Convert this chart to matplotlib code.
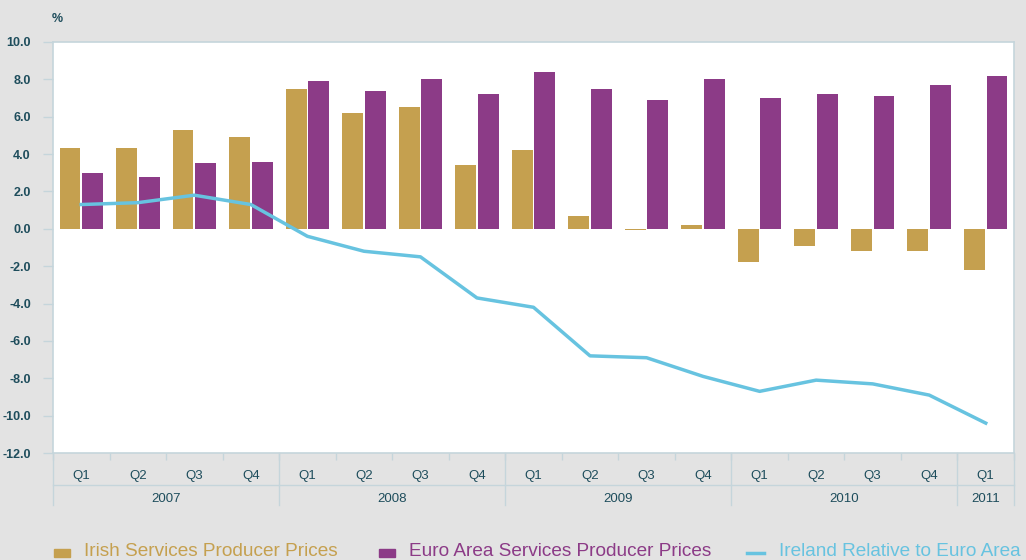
import matplotlib
matplotlib.use("Agg")
import matplotlib.pyplot as plt
from matplotlib.patches import Rectangle
import numpy as np

quarters = ["Q1", "Q2", "Q3", "Q4"] * 4 + ["Q1"]
years = ["2007", "2008", "2009", "2010", "2011"]
year_sizes = [4, 4, 4, 4, 1]

irish = [4.3, 4.3, 5.3, 4.9, 7.5, 6.2, 6.5, 3.4, 4.2, 0.7, -0.05, 0.2,
         -1.8, -0.9, -1.2, -1.2, -2.2]
euro = [3.0, 2.8, 3.5, 3.6, 7.9, 7.4, 8.0, 7.2, 8.4, 7.5, 6.9, 8.0,
        7.0, 7.2, 7.1, 7.7, 8.2]
relative = [1.3, 1.4, 1.8, 1.3, -0.4, -1.2, -1.5, -3.7, -4.2, -6.8, -6.9, -7.9,
            -8.7, -8.1, -8.3, -8.9, -10.4]

gold = "#c5a04f"
purple = "#8c3b87"
blue = "#67c3e0"
txt = "#1e4d5c"
axcol = "#c5d5db"
bg = "#e3e3e3"

plt.rcParams['font.family'] = ['Liberation Sans', 'DejaVu Sans']

fig = plt.figure(figsize=(10.26, 5.6), dpi=100, facecolor=bg)
ax = fig.add_axes([53 / 1026, 1 - 453 / 560, 961 / 1026, 411 / 560])
ax.set_facecolor("white")

x = np.arange(len(irish))
w = 0.37
ax.bar(x - 0.2, irish, w, color=gold, zorder=2)
ax.bar(x + 0.2, euro, w, color=purple, zorder=2)
ax.plot(x, relative, color=blue, lw=2.5, zorder=3)

ax.set_xlim(-0.5, len(irish) - 0.5)
ax.set_ylim(-12, 10)
yt = np.arange(-12, 11, 2)
ax.set_yticks(yt)
ax.set_yticklabels([f"{v:.1f}" for v in yt], fontsize=9, color=txt, fontweight="bold")
ax.tick_params(axis="y", length=7, width=1, color=axcol, pad=9)

ax.set_xticks(x)
ax.set_xticklabels(quarters, fontsize=9.5, color=txt)
ax.tick_params(axis="x", length=0, pad=12)
ax.set_xticks(np.arange(-0.5, len(irish), 1), minor=True)
ax.tick_params(axis="x", which="minor", length=5, width=1, color=axcol, direction="out")

for s in ax.spines.values():
    s.set_color(axcol)
    s.set_linewidth(1.2)

# year grouping lines and labels below the axis
tr = ax.get_xaxis_transform()
ax.plot([-0.5, len(irish) - 0.5], [-32 / 411, -32 / 411], transform=tr,
        color=axcol, lw=1, clip_on=False)
start = -0.5
bounds = [start]
for yr, n in zip(years, year_sizes):
    ax.text(start + n / 2, -46 / 411, yr, transform=tr, ha="center", va="center",
            fontsize=9.5, color=txt)
    start += n
    bounds.append(start)
for b in bounds:
    ax.plot([b, b], [0, -52 / 411], transform=tr, color=axcol, lw=1, clip_on=False)

fig.text(57 / 1026, 1 - 19 / 560, "%", fontsize=9, color=txt, fontweight="bold",
         ha="center", va="center")

# legend along the bottom edge
items = [(54, 84, "Irish Services Producer Prices", gold, "box"),
         (379, 409, "Euro Area Services Producer Prices", purple, "box"),
         (747, 779, "Ireland Relative to Euro Area", blue, "line")]
for x0, tx, label, col, kind in items:
    if kind == "box":
        fig.patches.append(Rectangle((x0 / 1026, 1 - 557 / 560), 16 / 1026, 8 / 560,
                                     transform=fig.transFigure, color=col))
    else:
        fig.lines.append(plt.Line2D([x0 / 1026, (x0 + 17) / 1026],
                                    [1 - 553 / 560, 1 - 553 / 560],
                                    transform=fig.transFigure, color=col, lw=2.5))
    fig.text(tx / 1026, 1 - 551 / 560, label, fontsize=13.7, color=col,
             ha="left", va="center")

fig.savefig("out.png", dpi=100, facecolor=bg)
